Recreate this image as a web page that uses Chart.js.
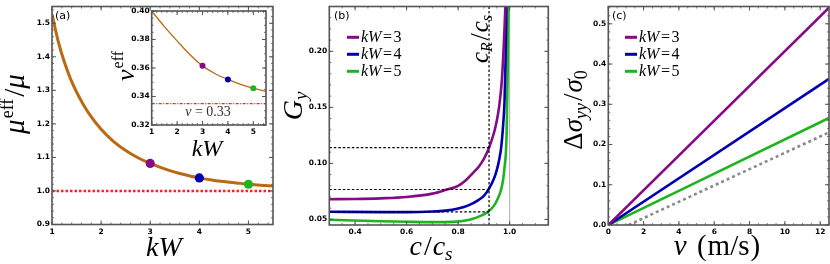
<!DOCTYPE html>
<html><head><meta charset="utf-8">
<script src="https://cdn.jsdelivr.net/npm/chart.js@4.4.1/dist/chart.umd.min.js"></script>
<style>
html,body{margin:0;padding:0;background:#fff;}
#wrap{position:relative;width:830px;height:264px;overflow:hidden;background:#fff;}
canvas{position:absolute;top:0;}
</style></head>
<body><div id="wrap">
<canvas id="ca" width="280" height="264" style="left:0px"></canvas>
<canvas id="ci" width="175" height="160" style="left:100px"></canvas>
<canvas id="cb" width="280" height="264" style="left:280px"></canvas>
<canvas id="cc" width="270" height="264" style="left:560px"></canvas>
</div>
<script>
// ---------------- DATA ----------------
// Panel (a): effective shear modulus vs kW
const kwA = [1.0,1.125,1.25,1.375,1.5,1.625,1.75,2.0,2.25,2.5,2.75,3.0,3.25,3.5,3.75,4.0,4.25,4.5,4.75,5.0,5.25,5.5];
const muRatio = [1.527,1.447,1.385,1.335,1.295,1.261,1.2315,1.184,1.148,1.1205,1.099,1.082,1.068,1.056,1.047,1.039,1.033,1.028,1.024,1.020,1.017,1.015];
const kwMarks = [3,4,5];
const muMarks = [1.082,1.039,1.020];
const muRef = 1.0;
// Inset: effective Poisson ratio vs kW
const kwInset = [1.0,1.5,2.0,2.5,3.0,3.5,4.0,4.5,5.0,5.5];
const nuEff = [0.400,0.389,0.379,0.3695,0.3615,0.356,0.352,0.3485,0.3458,0.3435];
const nuMarks = [0.3615,0.352,0.3458];
const nuRef = 0.335;
// Panel (b): G_y vs c/c_s
const cK3 = [0.3,0.4,0.5,0.6,0.7,0.75,0.8,0.83,0.86,0.88,0.9,0.92,0.94,0.95,0.96,0.97,0.975,0.98,0.985];
const gK3 = [0.068,0.0682,0.0688,0.070,0.073,0.0762,0.080,0.085,0.092,0.097,0.104,0.114,0.128,0.138,0.152,0.175,0.195,0.22,0.25];
const cK4 = [0.3,0.5,0.6,0.7,0.75,0.8,0.84,0.88,0.9,0.92,0.94,0.95,0.96,0.967,0.975,0.98,0.984,0.988];
const gK4 = [0.0568,0.0565,0.0565,0.057,0.0578,0.0597,0.0625,0.0675,0.071,0.0775,0.087,0.094,0.104,0.114,0.135,0.155,0.19,0.25];
const cK5 = [0.3,0.4,0.5,0.6,0.7,0.78,0.84,0.88,0.9,0.92,0.94,0.955,0.967,0.975,0.98,0.985,0.988,0.99,0.993,0.996];
const gK5 = [0.0497,0.0490,0.0484,0.0479,0.0476,0.0478,0.0495,0.0525,0.0545,0.0575,0.0625,0.069,0.0767,0.086,0.096,0.108,0.125,0.150,0.19,0.25];
const cRayleigh = 0.92;
const gAtRayleigh = [0.114,0.0767,0.0567];
const cShear = 1.0;
// Panel (c): stress change vs speed
const vLine = [0,12.5];
const dsK3 = [0,0.54];
const dsK4 = [0,0.363];
const dsK5 = [0,0.266];
const vRef = [1.15,12.5];
const dsRef = [0,0.23];
// legend / categories
const kwValues = [3,4,5];
// tick labels
const aXTicks = [1,2,3,4,5];
const aYTicks = [0.9,1.0,1.1,1.2,1.3,1.4,1.5];
const iXTicks = [1,2,3,4,5];
const iYTicks = [0.32,0.34,0.36,0.38,0.40];
const bXTicks = [0.4,0.6,0.8,1.0];
const bYTicks = [0.05,0.10,0.15,0.20];
const cXTicks = [0,2,4,6,8,10,12];
const cYTicks = [0.0,0.1,0.2,0.3,0.4,0.5];

// ---------------- STYLE ----------------
const PURPLE='#860a86', BLUE='#0000b0', GREEN='#1fb41f', BROWN='#bb6a12', RED='#ff2020', GRAYD='#8a8a8a';
const SER='"Liberation Serif","Times New Roman",serif';
const it = s => 'italic '+s+'px '+SER;
const rm = s => s+'px '+SER;
const TICKFONT = {family:'"DejaVu Sans"', size:7.5, weight:'bold'};
const seriesColors=[PURPLE,BLUE,GREEN];

const pts = (xs,ys)=>xs.map((x,i)=>({x:x,y:ys[i]}));

function drawRich(ctx,item){
  ctx.save();
  ctx.translate(item.x,item.y);
  if(item.rot) ctx.rotate(item.rot*Math.PI/180);
  let tot=0;
  const ws=item.segs.map(s=>{ctx.font=s.f;const w=ctx.measureText(s.t).width+(s.dx||0);tot+=w;return w;});
  let cx = item.align==='left'?0:(item.align==='right'?-tot:-tot/2);
  ctx.textBaseline='alphabetic';ctx.textAlign='left';
  item.segs.forEach((s,i)=>{ctx.font=s.f;ctx.fillStyle=s.c||item.c||'#000';ctx.fillText(s.t,cx+(s.dx||0),s.dy||0);cx+=ws[i];});
  ctx.restore();
}

const framePlugin={
  id:'frame',
  afterDatasetsDraw(chart,args,o){
    const ctx=chart.ctx, a=chart.chartArea, xs=chart.scales.x, ys=chart.scales.y;
    ctx.save();
    ctx.strokeStyle=o.color||'#555';
    const drawSet=(scale,step,len,isX)=>{
      const mn=scale.min,mx=scale.max;
      for(let k=Math.ceil(mn/step-1e-6);k*step<=mx+1e-9;k++){
        const v=k*step;
        const p=scale.getPixelForValue(v);
        ctx.beginPath();
        if(isX){ctx.moveTo(p,a.bottom);ctx.lineTo(p,a.bottom-len);ctx.moveTo(p,a.top);ctx.lineTo(p,a.top+len);}
        else{ctx.moveTo(a.left,p);ctx.lineTo(a.left+len,p);ctx.moveTo(a.right,p);ctx.lineTo(a.right-len,p);}
        ctx.stroke();
      }
    };
    ctx.lineWidth=0.8;
    drawSet(xs,o.minorX,2,true);drawSet(ys,o.minorY,2,false);
    ctx.lineWidth=1;
    const maj=(scale,vals,isX)=>vals.forEach(v=>{const p=scale.getPixelForValue(v);ctx.beginPath();
      if(isX){ctx.moveTo(p,a.bottom);ctx.lineTo(p,a.bottom-4);ctx.moveTo(p,a.top);ctx.lineTo(p,a.top+4);}
      else{ctx.moveTo(a.left,p);ctx.lineTo(a.left+4,p);ctx.moveTo(a.right,p);ctx.lineTo(a.right-4,p);}ctx.stroke();});
    maj(xs,o.majorX,true);maj(ys,o.majorY,false);
    ctx.lineWidth=o.width||1.6;
    ctx.strokeRect(a.left,a.top,a.right-a.left,a.bottom-a.top);
    ctx.restore();
  },
  afterDraw(chart,args,o){
    const ctx=chart.ctx;
    (o.texts||[]).forEach(t=>drawRich(ctx,t));
    if(o.legend){
      const L=o.legend;
      kwValues.forEach((k,i)=>{
        const y=L.y+i*L.dy;
        ctx.save();ctx.strokeStyle=seriesColors[i];ctx.lineWidth=3;ctx.beginPath();ctx.moveTo(L.x,y);ctx.lineTo(L.x+L.len,y);ctx.stroke();ctx.restore();
        drawRich(ctx,{x:L.x+L.len+2,y:y+5,align:'left',segs:[{t:'kW',f:it(L.fs)},{t:'=',f:rm(L.fs),dx:1.5},{t:String(k),f:rm(L.fs),dx:1.5}]});
      });
    }
  }
};

function axis(min,max,ticks,fmt,size,isX){
  const o={type:'linear',min:min,max:max,
    afterBuildTicks:s=>{s.ticks=ticks.map(v=>({value:v}));},
    ticks:{font:TICKFONT,color:'#000',padding:isX?3:2,maxRotation:0,autoSkip:false,callback:v=>fmt(v)},
    grid:{display:false,drawTicks:false},border:{display:false}};
  if(isX) o.afterFit=s=>{s.height=size;}; else o.afterFit=s=>{s.width=size;};
  return o;
}
function baseOpts(pad,xs,ys,frame){
  return {responsive:false,animation:false,devicePixelRatio:1,
    layout:{padding:pad},
    plugins:{legend:{display:false},tooltip:{enabled:false},frame:frame},
    scales:{x:xs,y:ys}};
}
const line=(data,color,w,extra)=>Object.assign({data:data,showLine:true,borderColor:color,borderWidth:w,pointRadius:0,fill:false,cubicInterpolationMode:'monotone'},extra||{});

// ---------------- Panel (a) ----------------
new Chart(document.getElementById('ca'),{type:'scatter',
  data:{datasets:[
    {data:pts(kwMarks,muMarks),pointRadius:4.6,pointBackgroundColor:seriesColors,pointBorderWidth:0,showLine:false},
    line(pts(kwA,muRatio),BROWN,3),
    line(pts([1,5.5],[muRef,muRef]),RED,2.6,{borderDash:[2.5,2]})
  ]},
  options:baseOpts({top:3.3,right:7,left:0,bottom:0},
    axis(1,5.5,aXTicks,v=>String(v),39.5,true),
    axis(0.9,1.55,aYTicks,v=>v.toFixed(1),52,false),
    {minorX:0.2,minorY:0.02,majorX:aXTicks,majorY:aYTicks,color:'#555',
     texts:[
       {x:164,y:256,segs:[{t:'kW',f:it(28)}]},
       {x:24,y:104,rot:-90,segs:[{t:'μ',f:it(29)},{t:'eff',f:rm(18),dy:-11,dx:1},{t:'/',f:rm(29),dx:2},{t:'μ',f:it(29)}]},
       {x:55,y:19,align:'left',segs:[{t:'(a)',f:'11px "DejaVu Sans"'}]}
     ]}),
  plugins:[framePlugin]});

// ---------------- Inset ----------------
new Chart(document.getElementById('ci'),{type:'scatter',
  data:{datasets:[
    {data:pts(kwMarks,nuMarks),pointRadius:3,pointBackgroundColor:seriesColors,pointBorderWidth:0,showLine:false},
    line(pts(kwInset,nuEff),BROWN,1.3),
    line(pts([1,5.5],[nuRef,nuRef]),RED,1.2,{borderDash:[3,1.5,1,1.5]})
  ]},
  options:baseOpts({top:11,right:9,left:0,bottom:0},
    axis(1,5.5,iXTicks,v=>String(v),35,true),
    axis(0.32,0.40,iYTicks,v=>v.toFixed(2),51.7,false),
    {minorX:0.2,minorY:0.005,majorX:iXTicks,majorY:iYTicks,color:'#555',
     texts:[
       {x:107,y:156,segs:[{t:'kW',f:it(24)}]},
       {x:34,y:66,rot:-90,segs:[{t:'ν',f:it(26)},{t:'eff',f:rm(16),dy:-11,dx:1}]},
       {x:108,y:116,c:'#333',segs:[{t:'ν',f:it(14)},{t:' = 0.33',f:rm(14)}]}
     ]}),
  plugins:[framePlugin]});

// ---------------- Panel (b) ----------------
new Chart(document.getElementById('cb'),{type:'scatter',
  data:{datasets:[
    line(pts([0.3,cRayleigh],[gAtRayleigh[0],gAtRayleigh[0]]),'#000',1.2,{borderDash:[2.5,2],cubicInterpolationMode:'default'}),
    line(pts([0.3,cRayleigh],[gAtRayleigh[1],gAtRayleigh[1]]),'#000',1.2,{borderDash:[2.5,2],cubicInterpolationMode:'default'}),
    line(pts([0.3,cRayleigh],[gAtRayleigh[2],gAtRayleigh[2]]),'#000',1.2,{borderDash:[2.5,2],cubicInterpolationMode:'default'}),
    line(pts([cRayleigh,cRayleigh],[0.045,0.24]),'#000',1.2,{borderDash:[2.5,2],cubicInterpolationMode:'default'}),
    line(pts(cK3,gK3),PURPLE,2.6),
    line(pts(cK4,gK4),BLUE,2.6),
    line(pts(cK5,gK5),GREEN,2.6),
    line(pts([cShear,cShear],[0.045,0.24]),'#999',0.8,{cubicInterpolationMode:'default'})
  ]},
  options:baseOpts({top:3.3,right:11.7,left:0,bottom:0},
    axis(0.3,1.15,bXTicks,v=>v.toFixed(1),39,true),
    axis(0.045,0.24,bYTicks,v=>v.toFixed(2),49.3,false),
    {minorX:0.05,minorY:0.01,majorX:bXTicks,majorY:bYTicks,color:'#555',
     legend:{x:67,y:37.3,dy:17,len:12,fs:16},
     texts:[
       {x:151,y:255,segs:[{t:'c',f:it(28)},{t:'/',f:rm(28),dx:2},{t:'c',f:it(28),dx:1},{t:'s',f:it(19),dy:5}]},
       {x:22,y:106,rot:-90,segs:[{t:'G',f:it(28)},{t:'y',f:it(19),dy:5}]},
       {x:54,y:19,align:'left',segs:[{t:'(b)',f:'11px "DejaVu Sans"'}]},
       {x:208,y:39,rot:-90,segs:[{t:'c',f:it(25)},{t:'R',f:it(16),dy:4},{t:'/',f:rm(25),dx:2},{t:'c',f:it(25),dx:1},{t:'s',f:it(16),dy:4}]}
     ]}),
  plugins:[framePlugin]});

// ---------------- Panel (c) ----------------
new Chart(document.getElementById('cc'),{type:'scatter',
  data:{datasets:[
    line(pts(vLine,dsK3),PURPLE,2.6),
    line(pts(vLine,dsK4),BLUE,2.6),
    line(pts(vLine,dsK5),GREEN,2.6),
    line(pts(vRef,dsRef),GRAYD,2.6,{borderDash:[3,3]})
  ]},
  options:baseOpts({top:3.3,right:1,left:0,bottom:0},
    axis(0,12.5,cXTicks,v=>String(v),39,true),
    axis(0,0.543,cYTicks,v=>v.toFixed(1),48.3,false),
    {minorX:0.5,minorY:0.02,majorX:cXTicks,majorY:cYTicks,color:'#555',
     legend:{x:65,y:37.3,dy:17,len:12,fs:16},
     texts:[
       {x:157,y:255,segs:[{t:'v',f:it(29)},{t:' (',f:rm(29),dx:3},{t:'m/s',f:rm(29),dx:1},{t:')',f:rm(29),dx:1}]},
       {x:22,y:110,rot:-90,segs:[{t:'Δ',f:rm(27)},{t:'σ',f:it(27)},{t:'yy',f:it(18),dy:5},{t:'/',f:rm(27),dx:2},{t:'σ',f:it(27),dx:1},{t:'0',f:rm(18),dy:5}]},
       {x:52,y:19,align:'left',segs:[{t:'(c)',f:'11px "DejaVu Sans"'}]}
     ]}),
  plugins:[framePlugin]});
</script>
</body></html>
